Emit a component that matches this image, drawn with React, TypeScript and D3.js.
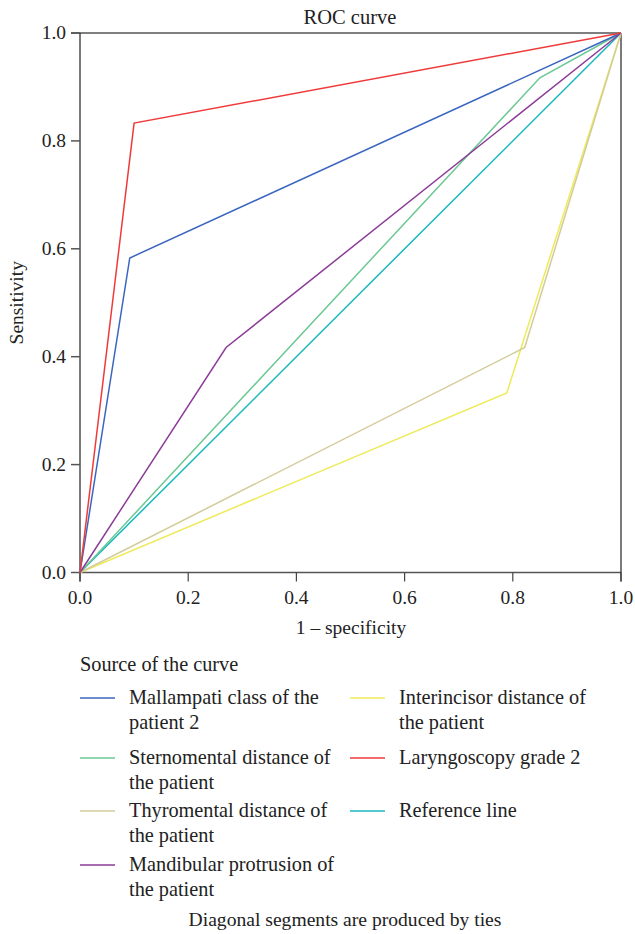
import React from "react";
import * as d3 from "d3";

const seriesNames = [
  "Mallampati class of the patient 2",
  "Sternomental distance of the patient",
  "Thyromental distance of the patient",
  "Mandibular protrusion of the patient",
  "Interincisor distance of the patient",
  "Laryngoscopy grade 2",
  "Reference line",
];
const seriesColors = ["#3a66c0", "#6cc894", "#d2cc98", "#8c3c98", "#eeea5a", "#f03a3a", "#18b8c0"];
const fprValues = [
  [0, 0.092, 1],
  [0, 0.85, 1],
  [0, 0.822, 1],
  [0, 0.27, 1],
  [0, 0.789, 1],
  [0, 0.1, 1],
  [0, 1],
];
const tprValues = [
  [0, 0.583, 1],
  [0, 0.917, 1],
  [0, 0.417, 1],
  [0, 0.417, 1],
  [0, 0.333, 1],
  [0, 0.833, 1],
  [0, 1],
];
const drawOrder = [6, 4, 2, 1, 3, 0, 5];
const tickValues = [0, 0.2, 0.4, 0.6, 0.8, 1.0];

const legendLeft = [
  { idx: 0, lines: ["Mallampati class of the", "patient 2"], y: 698 },
  { idx: 1, lines: ["Sternomental distance of", "the patient"], y: 758 },
  { idx: 2, lines: ["Thyromental distance of", "the patient"], y: 811 },
  { idx: 3, lines: ["Mandibular protrusion of", "the patient"], y: 865 },
];
const legendRight = [
  { idx: 4, lines: ["Interincisor distance of", "the patient"], y: 698 },
  { idx: 5, lines: ["Laryngoscopy grade 2"], y: 758 },
  { idx: 6, lines: ["Reference line"], y: 811 },
];

const FONT = "'Liberation Serif', 'DejaVu Serif', serif";

export default function App() {
  const W = 635, H = 934;
  const x = d3.scaleLinear().domain([0, 1]).range([80, 621]);
  const y = d3.scaleLinear().domain([0, 1]).range([572.5, 33]);
  const line = d3.line<[number, number]>().x((d) => x(d[0])).y((d) => y(d[1]));

  const renderLegend = (items: typeof legendLeft, lx: number) =>
    items.map((it) => (
      <g key={it.idx}>
        <line x1={lx} x2={lx + 35} y1={it.y} y2={it.y} stroke={seriesColors[it.idx]} strokeWidth={1.5} />
        {it.lines.map((t, i) => (
          <text key={i} x={lx + 49} y={it.y + 6 + i * 25} fontSize={20.3} fill="#222">
            {t}
          </text>
        ))}
      </g>
    ));

  return (
    <svg width={W} height={H} style={{ position: "absolute", left: 0, top: 0, fontFamily: FONT }}>
      <rect width={W} height={H} fill="#fff" />
      <text x={350} y={24} fontSize={20.5} textAnchor="middle" fill="#222">ROC curve</text>

      {/* frame */}
      <line x1={71} x2={621} y1={y(1)} y2={y(1)} stroke="#555" strokeWidth={1.5} />
      <line x1={80} x2={621} y1={y(0)} y2={y(0)} stroke="#555" strokeWidth={1.5} />
      <line x1={x(1)} x2={x(1)} y1={y(1)} y2={y(0) + 9} stroke="#222" strokeWidth={1.2} />
      <line x1={x(0)} x2={x(0)} y1={y(1)} y2={y(0) + 9} stroke="#222" strokeWidth={1.2} />

      {tickValues.map((t) => (
        <g key={"y" + t}>
          <line x1={71} x2={80} y1={y(t)} y2={y(t)} stroke="#555" strokeWidth={1.5} />
          <text x={66} y={y(t) + 6} fontSize={19.5} textAnchor="end" fill="#222">{t.toFixed(1)}</text>
        </g>
      ))}
      {tickValues.map((t) => (
        <g key={"x" + t}>
          <line x1={x(t)} x2={x(t)} y1={y(0)} y2={y(0) + 9} stroke="#444" strokeWidth={1.2} />
          <text x={x(t)} y={604} fontSize={19.5} textAnchor="middle" fill="#222">{t.toFixed(1)}</text>
        </g>
      ))}
      <text x={351} y={634} fontSize={19.5} textAnchor="middle" fill="#222">1 – specificity</text>
      <text transform={`translate(23,${y(0.5)}) rotate(-90)`} fontSize={19.5} textAnchor="middle" fill="#222">Sensitivity</text>

      {drawOrder.map((i) => (
        <path
          key={i}
          d={line(fprValues[i].map((v, k) => [v, tprValues[i][k]] as [number, number])) || ""}
          fill="none"
          stroke={seriesColors[i]}
          strokeWidth={1.5}
        />
      ))}

      <text x={80} y={671} fontSize={20.3} fill="#222">Source of the curve</text>
      {renderLegend(legendLeft, 80)}
      {renderLegend(legendRight, 350)}
      <text x={345} y={926} fontSize={19.6} textAnchor="middle" fill="#222">Diagonal segments are produced by ties</text>
    </svg>
  );
}
